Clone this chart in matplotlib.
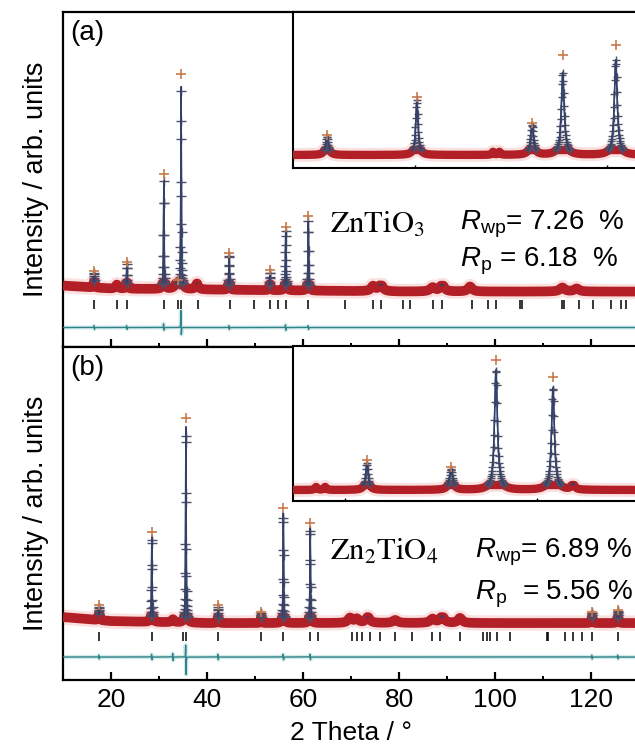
import numpy as np
import matplotlib
matplotlib.use("Agg")
import matplotlib.pyplot as plt
from matplotlib.ticker import MultipleLocator, NullFormatter

plt.rcParams['font.family'] = ['Liberation Sans', 'DejaVu Sans']
plt.rcParams['mathtext.fontset'] = 'custom'
plt.rcParams['mathtext.rm'] = 'Liberation Sans'
plt.rcParams['mathtext.it'] = 'Liberation Sans:italic'

# ---------------- data ----------------
# Panel (a) ZnTiO3 : peak positions (2theta), observed top, calculated top, width (HWHM)
pos_a = [16.5, 21.2, 23.3, 31.0, 33.9, 34.6, 37.9, 44.6, 53.1, 56.4, 61.1,
         74.6, 76.2, 87.0, 89.0, 94.8, 114.0, 117.0]
obs_a = [17, 4, 27, 115, 9, 216, 7, 37, 20, 63, 75, 5, 7, 4, 7, 5, 4, 3]
calc_a = [15, 4, 25, 108, 8, 200, 6, 35, 18, 60, 70, 5, 7, 4, 7, 5, 4, 3]
wid_a = [0.08, 0.3, 0.08, 0.07, 0.5, 0.07, 0.3, 0.08, 0.08, 0.08, 0.08,
         0.5, 0.5, 0.6, 0.5, 0.5, 0.6, 0.6]
bgx_a = [10, 20, 40, 80, 131]
bgy_a = [4, 1, 0, -2, -2]
bragg_a = [16.5, 21.2, 23.3, 31.0, 33.9, 34.6, 38.1, 44.8, 49.8, 53.1, 54.8,
           56.4, 61.1, 68.8, 74.6, 76.2, 80.8, 82.3, 87.1, 89.0, 95.2, 98.5,
           100.2, 105.2, 105.6, 114.0, 114.3, 117.6, 120.5, 124.2, 126.3, 127.2]
dpos_a = [16.5, 23.3, 31.0, 34.6, 44.6, 56.4, 61.1]
dup_a = [2, 2, 4, 18, 2, 3, 2]
ddn_a = [2, 2, 3, 9, 2, 3, 2]

# Panel (b) Zn2TiO4
pos_b = [17.5, 28.5, 32.9, 35.6, 42.3, 51.3, 55.9, 61.5, 69.8, 71.2, 73.5,
         79.2, 87.0, 89.0, 92.7, 120.2, 125.6]
obs_b = [15, 90, 3, 205, 18, 11, 115, 100, 5, 4, 6, 3, 4, 7, 5, 11, 13]
calc_b = [13, 86, 3, 196, 16, 10, 110, 96, 5, 4, 6, 3, 4, 7, 5, 10, 12]
wid_b = [0.09, 0.07, 0.3, 0.07, 0.08, 0.08, 0.07, 0.07, 0.5, 0.5, 0.5,
         0.6, 0.6, 0.5, 0.5, 0.1, 0.1]
bgx_b = [10, 20, 40, 80, 131]
bgy_b = [6, 2, 0, 0, 0]
bragg_b = [17.5, 28.5, 35.0, 35.6, 42.3, 51.3, 55.9, 61.5, 63.2, 70.2, 71.2,
           72.3, 73.9, 76.0, 79.2, 82.7, 86.9, 88.5, 92.7, 97.5, 98.3, 99.0,
           100.4, 103.1, 110.8, 111.0, 114.6, 116.3, 118.1, 120.2, 125.6]
dpos_b = [17.5, 28.5, 32.9, 35.6, 42.3, 55.9, 61.5, 120.2, 125.6]
dup_b = [2, 3, 4, 14, 3, 3, 3, 2, 2]
ddn_b = [2, 3, 4, 19, 3, 3, 3, 2, 2]

# Insets
ipos_a = [15.42, 20.1, 24.07, 24.4, 26.1, 27.7, 30.46]
iobs_a = [20, 58, 3, 3, 32, 100, 110]
icalc_a = [18, 55, 3, 3, 30, 82, 95]
iwid_a = [0.09, 0.07, 0.06, 0.06, 0.09, 0.09, 0.09]
ipos_b = [18.5, 18.97, 21.15, 25.53, 27.87, 30.84, 31.88]
iobs_b = [3, 3, 30, 23, 130, 113, 6]
icalc_b = [3, 3, 27, 21, 120, 102, 6]
iwid_b = [0.07, 0.07, 0.08, 0.1, 0.09, 0.09, 0.1]

# ---------------- styling ----------------
RED = '#b21f26'
HALO = '#f29a9a'
NAVY = '#33416a'
GRAY = '#4f5068'
ORANGE = '#c97a4a'
TEAL = '#2e8288'


def lor(x, pos, h, w):
    y = np.zeros_like(x)
    for p, hh, ww in zip(pos, h, w):
        y += hh / (1.0 + ((x - p) / ww) ** 2)
    return y


def pattern(ax, xlim, pos, obs, calc, wid, bgx, bgy, step, clip=6,
            band_lw=7.0, ms=6.5):
    x = np.arange(xlim[0], xlim[1], 0.004)
    bg = np.interp(x, bgx, bgy)
    prof = lor(x, pos, calc, wid)
    band = bg + np.minimum(prof, clip)
    ax.plot(x, bg + prof, color=NAVY, lw=1.0, zorder=2)
    ax.plot(x, band, color=HALO, lw=band_lw + 4, alpha=0.3, zorder=2.5,
            solid_capstyle='butt')
    ax.plot(x, band, color=RED, lw=band_lw, zorder=3, solid_capstyle='butt')
    # observed crosses on the sharp reflections
    sharp = [i for i, w in enumerate(wid) if w <= 0.15 and calc[i] > 8]
    sp = [pos[i] for i in sharp]
    sh = [calc[i] for i in sharp]
    sw = [wid[i] for i in sharp]
    xs = np.arange(xlim[0], xlim[1], step)
    ps = lor(xs, sp, sh, sw)
    bs = np.interp(xs, bgx, bgy)
    m = ps > 5
    ax.plot(xs[m], bs[m] + ps[m], '+', color=GRAY, ms=ms, mew=1.0, zorder=4)
    top = np.where(prof > clip, bg + prof, np.nan)
    ax.plot(x, top, color=NAVY, lw=1.1, zorder=5)
    big = np.array(obs) > 8
    pb = np.array(pos)[big]
    ax.plot(pb, np.interp(pb, bgx, bgy) + np.array(obs)[big], '+',
            color=ORANGE, ms=ms + 1, mew=1.2, zorder=6)


def extras(ax, xlim, bragg, tick_y, dpos, dup, ddn, diff_y):
    ax.vlines(bragg, tick_y - 4.5, tick_y + 4.5, color='k', lw=1.1, zorder=3)
    x = np.arange(xlim[0], xlim[1], 0.004)
    d = np.zeros_like(x)
    for p, u, dn in zip(dpos, dup, ddn):
        d += u / (1 + ((x - p + 0.05) / 0.035) ** 2)
        d -= dn / (1 + ((x - p - 0.05) / 0.035) ** 2)
    ax.plot(x, diff_y + d, color='#a8d6d8', lw=3, alpha=0.5, zorder=2)
    ax.plot(x, diff_y + d, color=TEAL, lw=1.0, zorder=3)


W, H = 635, 756
fig = plt.figure(figsize=(W / 100, H / 100), dpi=100)

XL = (10, 10 + 577 / 4.8)
left = 63 / W
width = 577 / W
mid = (756 - 346.5) / H
ax_a = fig.add_axes([left, mid, width, (756 - 12) / H - mid])
ax_b = fig.add_axes([left, (756 - 680) / H, width, mid - (756 - 680) / H])

for ax, lo, hi in [(ax_a, -57, 278), (ax_b, -57, 277)]:
    ax.set_xlim(*XL)
    ax.set_ylim(lo, hi)
    ax.set_yticks([])
    for s in ax.spines.values():
        s.set_linewidth(1.6)
    ax.xaxis.set_major_locator(MultipleLocator(20))
    ax.xaxis.set_minor_locator(MultipleLocator(10))
    ax.tick_params(axis='x', which='major', direction='in', length=5.5,
                   width=1.6, labelsize=19, top=False, pad=6)
    ax.tick_params(axis='x', which='minor', direction='in', length=3,
                   width=1.4, top=False)
    ax.set_ylabel('Intensity / arb. units', fontsize=19.5, labelpad=10)

ax_a.xaxis.set_major_formatter(NullFormatter())
ax_b.set_xlabel('2 Theta / °', fontsize=19, labelpad=6)

pattern(ax_a, XL, pos_a, obs_a, calc_a, wid_a, bgx_a, bgy_a, step=0.035)
extras(ax_a, XL, bragg_a, -15, dpos_a, dup_a, ddn_a, -38)
pattern(ax_b, XL, pos_b, obs_b, calc_b, wid_b, bgx_b, bgy_b, step=0.035)
extras(ax_b, XL, bragg_b, -13, dpos_b, dup_b, ddn_b, -34)

ax_a.text(0.012, 0.975, '(a)', transform=ax_a.transAxes, fontsize=20,
          va='top', ha='left')
ax_b.text(0.012, 0.975, '(b)', transform=ax_b.transAxes, fontsize=20,
          va='top', ha='left')

ax_a.text(0.463, 0.34, r'$\mathrm{ZnTiO_3}$', transform=ax_a.transAxes,
          fontsize=22, math_fontfamily='stix', va='baseline')
ax_a.text(0.688, 0.349, r'$R_{\mathrm{wp}}$= 7.26  %',
          transform=ax_a.transAxes, fontsize=20, va='baseline')
ax_a.text(0.688, 0.239, r'$R_{\mathrm{p}}$ = 6.18  %',
          transform=ax_a.transAxes, fontsize=20, va='baseline')

ax_b.text(0.463, 0.359, r'$\mathrm{Zn_2TiO_4}$', transform=ax_b.transAxes,
          fontsize=22, math_fontfamily='stix', va='baseline')
ax_b.text(0.714, 0.368, r'$R_{\mathrm{wp}}$= 6.89 %',
          transform=ax_b.transAxes, fontsize=20, va='baseline')
ax_b.text(0.714, 0.240, r'$R_{\mathrm{p}}$  = 5.56 %',
          transform=ax_b.transAxes, fontsize=20, va='baseline')

# insets
iw = (640 - 293) / W
in_a = fig.add_axes([293 / W, (756 - 168) / H, iw, (168 - 12) / H])
in_b = fig.add_axes([293 / W, (756 - 501) / H, iw, (501 - 346) / H])
IXA = (13.65, 13.65 + 347 / 19.2)
IXB = (17.3, 17.3 + 347 / 19.2)
for ax, xl, lo, hi in [(in_a, IXA, -13, 143), (in_b, IXB, -11, 144)]:
    ax.set_xlim(*xl)
    ax.set_ylim(lo, hi)
    ax.set_yticks([])
    ax.set_xticks([20, 30])
    ax.xaxis.set_major_formatter(NullFormatter())
    ax.tick_params(axis='x', direction='in', length=2, width=1.0)
    for s in ax.spines.values():
        s.set_linewidth(1.5)

pattern(in_a, IXA, ipos_a, iobs_a, icalc_a, iwid_a, [0, 50], [0, 0],
        step=0.022, clip=5, band_lw=6.0, ms=6)
pattern(in_b, IXB, ipos_b, iobs_b, icalc_b, iwid_b, [0, 50], [0, 0],
        step=0.022, clip=5, band_lw=6.0, ms=6)

fig.savefig('out.png', dpi=100)
